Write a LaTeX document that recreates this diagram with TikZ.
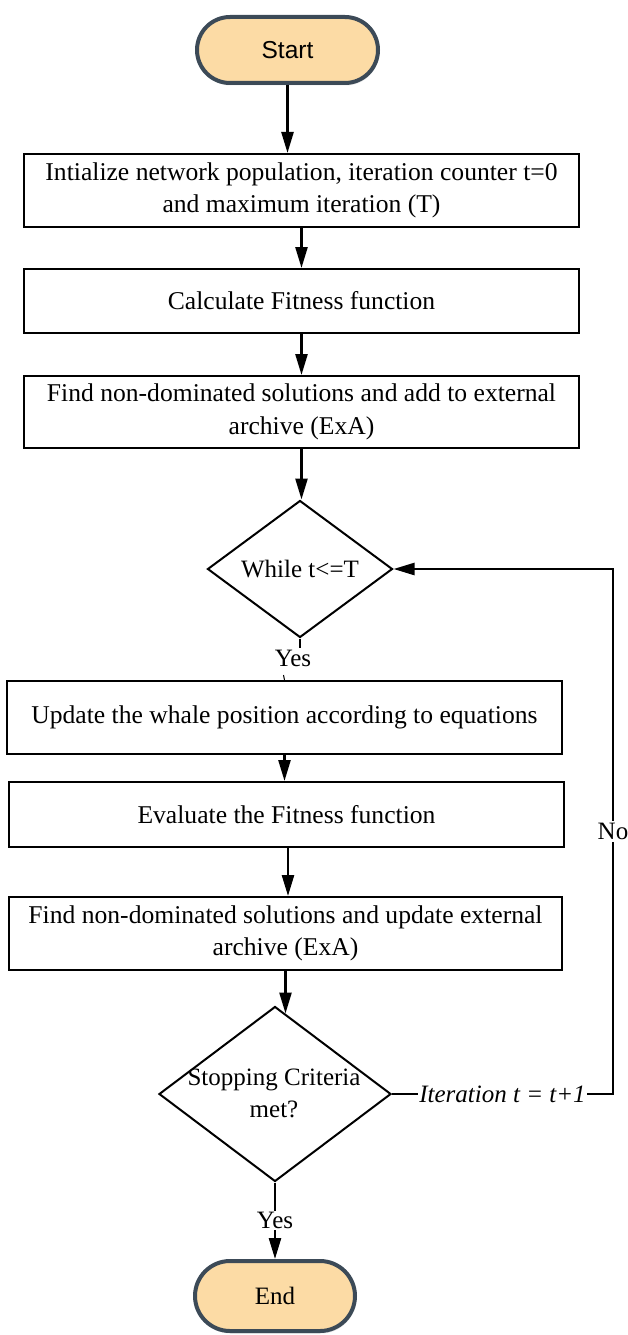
\documentclass[tikz,border=0pt]{standalone}
\usepackage{fontspec}
\setmainfont{Liberation Serif}
\newfontfamily\arialf{Liberation Sans}
\usetikzlibrary{shapes.geometric,shapes.misc,arrows.meta,shadows}
\definecolor{termfill}{HTML}{FCDBA5}
\definecolor{termline}{HTML}{3C4A57}
\begin{document}
\begin{tikzpicture}[x=1pt,y=-1pt,
 every node/.style={font=\fontsize{25}{32}\selectfont},
 box/.style={draw, line width=2pt, inner sep=0pt, align=center, font=\fontsize{25.6}{32.5}\selectfont},
 term/.style={rounded rectangle, draw=termline, fill=termfill, line width=4pt, inner sep=0pt,
   drop shadow={opacity=0.18, shadow xshift=1pt, shadow yshift=-2.5pt}},
 dia/.style={diamond, draw, line width=2pt, inner sep=0pt},
 arr/.style={line width=2.5pt, -{Triangle[length=21pt,width=12pt]}},
 conn/.style={line width=2.5pt},
 lbl/.style={fill=white, inner sep=2pt}
]
\useasboundingbox (0,0) rectangle (628,1335);

\node[term, minimum width=181, minimum height=66, font=\arialf\fontsize{24.5}{30}\selectfont] (start) at (287.5,50) {Start};

\node[box, minimum width=555, minimum height=73] (b1) at (301.5,190.5) {Intialize network population, iteration counter t=0\\and maximum iteration (T)};
\node[box, minimum width=555, minimum height=64] (b2) at (301.5,301) {Calculate Fitness function};
\node[box, minimum width=555, minimum height=72] (b3) at (301.5,412) {Find non-dominated solutions and add to external\\archive (ExA)};

\node[dia, minimum width=185, minimum height=137] (d1) at (300,569) {};
\node (d1t) at (d1.center) {While t<=T};

\node[box, minimum width=555, minimum height=73] (b4) at (284.5,717.5) {Update the whale position according to equations};
\node[box, minimum width=555, minimum height=65] (b5) at (286.5,814.5) {Evaluate the Fitness function};
\node[box, minimum width=553, minimum height=73] (b6) at (285.5,933.5) {Find non-dominated solutions and update external\\archive (ExA)};

\node[dia, minimum width=232, minimum height=175] (d2) at (275,1094) {};
\node[align=center] (d2t) at (274,1093) {Stopping Criteria\\met?};

\node[term, minimum width=160, minimum height=70, font=\fontsize{25}{30}\selectfont] (end) at (275,1296) {End};

% connectors
\draw[arr] (start.south) -- (start.south |- b1.north);
\draw[arr] (b1.south) -- (b2.north);
\draw[arr] (b2.south) -- (b3.north);
\draw[arr] (b3.south) -- (b3.south |- d1.north);

\draw[conn] (d1.south) -- ++(0,9) coordinate (y1);
\node[lbl, inner sep=1pt] (yes1) at (293,658) {Yes};
\draw[line width=1pt] (b4.north) -- ++(-1,-5);

\draw[arr] (b4.south) -- (b4.south |- b5.north);
\draw[arr] (288,847) coordinate (c5) -- (c5 |- b6.north);
\draw[arr, shorten >=-8pt] (b6.south) -- (b6.south |- d2.north);

\coordinate (loop) at (613,1094);
\draw[arr] (d2.east) -- node[lbl, font=\itshape\fontsize{25}{30}\selectfont, inner sep=1pt] (iter) {Iteration t = t+1} (loop)
  -- node[lbl] (no) {No} (loop |- d1.east) -- (d1.east);

\draw[arr] (d2.south) -- node[lbl, inner sep=1pt] (yes2) {Yes} (end.north);
\end{tikzpicture}
\end{document}
